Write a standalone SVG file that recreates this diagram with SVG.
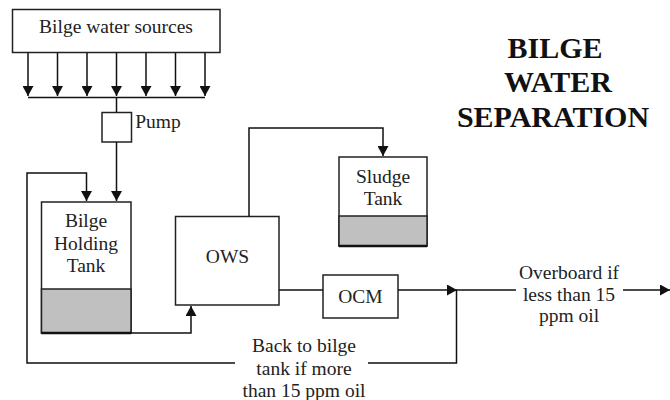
<svg xmlns="http://www.w3.org/2000/svg" width="670" height="400" viewBox="0 0 670 400">
<style>
.box{fill:#fff;stroke:#222;stroke-width:1.5}
.oil{fill:#c0c0c0;stroke:#222;stroke-width:1.5}
.ln{fill:none;stroke:#111;stroke-width:1.5}
.bot{stroke:#111;stroke-width:2.5}
.t{font-size:19.5px;fill:#222;text-anchor:middle}
.title{font-size:30px;font-weight:bold;fill:#111;text-anchor:middle}
</style>
<defs>
<marker id="ah" viewBox="0 0 10 10" refX="10" refY="5" markerWidth="10" markerHeight="11" markerUnits="userSpaceOnUse" orient="auto" preserveAspectRatio="none">
<path d="M0,0 L10,5 L0,10 z" fill="#111"/>
</marker>
</defs>
<rect width="670" height="400" fill="#fff"/>
<g font-family="Liberation Serif, Tinos, Times New Roman, DejaVu Serif, serif">
<g id="title">
<text class="title" x="555" y="58">BILGE</text>
<text class="title" x="558" y="92">WATER</text>
<text class="title" x="553" y="126.5">SEPARATION</text>
</g>

<g id="sources">
<rect class="box" x="12.5" y="9.5" width="207.5" height="43"/>
<text class="t" x="116" y="33">Bilge water sources</text>
</g>

<g id="pump">
<rect class="box" x="102" y="112.5" width="29.5" height="29.5"/>
<text class="t" x="158" y="128">Pump</text>
</g>

<g id="holding-tank">
<rect class="box" x="41.5" y="202" width="89.5" height="131"/>
<rect class="oil" x="41.5" y="289" width="89.5" height="44"/>
<line class="bot" x1="41.5" y1="333" x2="131" y2="333"/>
<text class="t" x="86" y="227">Bilge</text>
<text class="t" x="86" y="250">Holding</text>
<text class="t" x="86" y="272">Tank</text>
</g>

<g id="ows">
<rect class="box" x="175.5" y="216.5" width="103.5" height="88.5"/>
<text class="t" x="227.5" y="263">OWS</text>
</g>

<g id="sludge-tank">
<rect class="box" x="339" y="157" width="88" height="89"/>
<rect class="oil" x="339" y="216" width="88" height="30"/>
<line class="bot" x1="339" y1="246" x2="427" y2="246"/>
<text class="t" x="383" y="183">Sludge</text>
<text class="t" x="383" y="205">Tank</text>
</g>

<g id="ocm">
<rect class="box" x="323" y="275" width="75" height="43"/>
<text class="t" x="360.5" y="303">OCM</text>
</g>

<g id="labels">
<text class="t" x="304" y="352">Back to bilge</text>
<text class="t" x="304" y="374.5">tank if more</text>
<text class="t" x="304" y="396.5">than 15 ppm oil</text>
<text class="t" x="569" y="279">Overboard if</text>
<text class="t" x="569" y="300.5">less than 15</text>
<text class="t" x="569" y="322">ppm oil</text>
</g>
</g>
<g id="connectors">
<path class="ln" d="M28 53 V96" marker-end="url(#ah)"/>
<path class="ln" d="M57.5 53 V96" marker-end="url(#ah)"/>
<path class="ln" d="M87 53 V96" marker-end="url(#ah)"/>
<path class="ln" d="M116.5 53 V96" marker-end="url(#ah)"/>
<path class="ln" d="M146 53 V96" marker-end="url(#ah)"/>
<path class="ln" d="M175.5 53 V96" marker-end="url(#ah)"/>
<path class="ln" d="M205 53 V96" marker-end="url(#ah)"/>
<path class="ln" d="M28 97.5 H205"/>
<path class="ln" d="M116.5 97.5 V112.5"/>
<path class="ln" d="M116.5 142 V201" marker-end="url(#ah)"/>
<path class="ln" d="M456.5 290 V363 H368"/>
<path class="ln" d="M235 363 H27 V173 H86.5 V201" marker-end="url(#ah)"/>
<path class="ln" d="M131 333 H191 V306" marker-end="url(#ah)"/>
<path class="ln" d="M249 216.5 V128 H383 V156" marker-end="url(#ah)"/>
<path class="ln" d="M279 290 H323"/>
<path class="ln" d="M398 290 H457" marker-end="url(#ah)"/>
<path class="ln" d="M456.5 290 H516"/>
<path class="ln" d="M623 290 H670" marker-end="url(#ah)"/>
</g>
</svg>
